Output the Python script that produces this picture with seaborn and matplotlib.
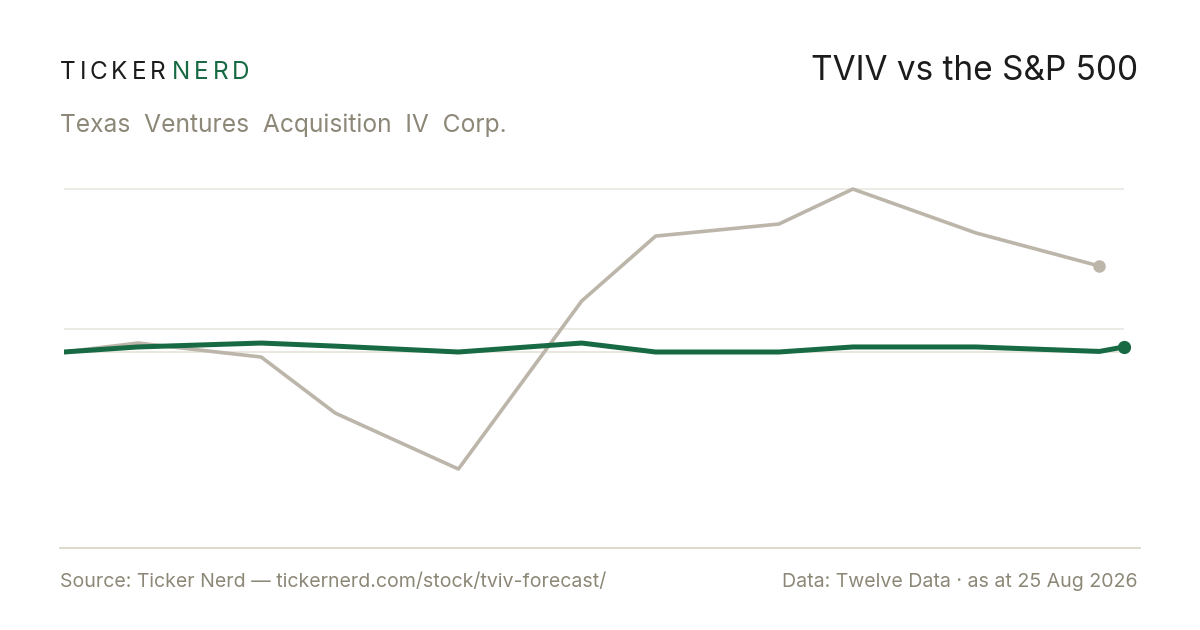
import pandas as pd
import numpy as np
import matplotlib
matplotlib.use('Agg')
import matplotlib.pyplot as plt
import seaborn as sns
from matplotlib.lines import Line2D

# data (return since start, %)
day_offsets = [0, 3, 8, 11, 16, 21, 24, 29, 32, 37, 42, 43]
tviv = [0, 0.32, -0.18, -2.18, -4.18, 1.82, 4.14, 4.57, 5.82, 4.25, 3.07]
spx = [0, 0.18, 0.32, 0.21, 0, 0.32, 0, 0, 0.18, 0.18, 0.02, 0.18]
grid_vals = [0.82, 5.82]

dates = pd.Timestamp('2026-07-13') + pd.to_timedelta(day_offsets, unit='D')
df_tviv = pd.DataFrame({'date': dates[:len(tviv)], 'ret': tviv})
df_spx = pd.DataFrame({'date': dates, 'ret': spx})

sns.set_theme(style='white')
plt.rcParams['font.family'] = ['Inter', 'DejaVu Sans']

GREEN = '#176a43'
GREY = '#bcb5aa'
MUTED = '#8c8777'

W, H = 1200, 630
fig = plt.figure(figsize=(12, 6.3), dpi=100)
fig.patch.set_facecolor('white')

def fx(x):
    return x / W

def fy(y):
    return 1 - y / H

ax = fig.add_axes([fx(64), fy(548), fx(1124 - 64), (548 - 170) / H])
ax.set_facecolor('white')

for g in grid_vals:
    ax.axhline(g, color='#ece9e4', lw=1.3, zorder=0)
ax.axhline(0, color='#e4e0d6', lw=1.1, zorder=0)

sns.lineplot(data=df_tviv, x='date', y='ret', ax=ax, color=GREY, lw=2.6, zorder=2)
sns.lineplot(data=df_spx, x='date', y='ret', ax=ax, color=GREEN, lw=3.6, zorder=3)
ax.plot(df_tviv['date'].iloc[-1], df_tviv['ret'].iloc[-1], 'o', ms=8, color=GREY, zorder=4)
ax.plot(df_spx['date'].iloc[-1], df_spx['ret'].iloc[-1], 'o', ms=8.5, color=GREEN, zorder=4,
        clip_on=False)

ax.set_xlim(dates[0], dates[-1])
ax.set_ylim(-7.0, 6.5)
ax.set_xticks([])
ax.set_yticks([])
ax.set_xlabel('')
ax.set_ylabel('')
for s in ax.spines.values():
    s.set_visible(False)

# bottom rule
fig.add_artist(Line2D([fx(60), fx(1140)], [fy(548), fy(548)], color='#dedad0', lw=1.5))

# logo with letter spacing
renderer = fig.canvas.get_renderer()
x = 60
for word, col in [('TICKER', '#1c1c1c'), ('NERD', GREEN)]:
    for ch in word:
        t = fig.text(fx(x), fy(79), ch, fontsize=17.5, color=col, va='baseline', ha='left')
        w = t.get_window_extent(renderer).width
        x += w + 3.8
    x += 3

fig.text(fx(60), fy(132), 'Texas  Ventures  Acquisition  IV  Corp.', fontsize=17.7, color=MUTED,
         va='baseline', ha='left')
fig.text(fx(1138), fy(80), 'TVIV vs the S&P 500', fontsize=24, color='#1c1c1c',
         va='baseline', ha='right')

fig.text(fx(60), fy(587), 'Source: Ticker Nerd \u2014 tickernerd.com/stock/tviv-forecast/', fontsize=14.1,
         color=MUTED, va='baseline', ha='left')
fig.text(fx(1138), fy(587), 'Data: Twelve Data \u00b7 as at 25 Aug 2026', fontsize=14.1,
         color=MUTED, va='baseline', ha='right')

fig.savefig('out.png', dpi=100, facecolor='white')
